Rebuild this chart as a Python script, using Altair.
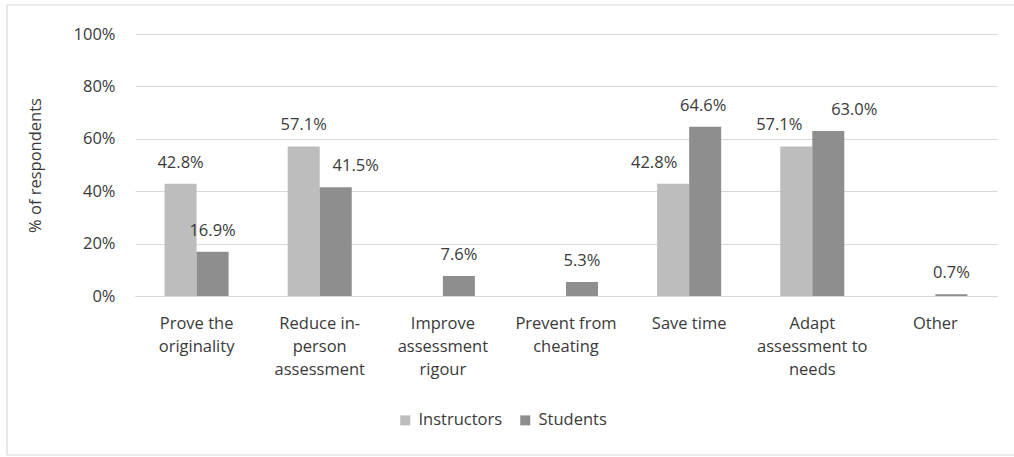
import altair as alt
import pandas as pd

# Survey results: share of respondents selecting each reason
categories = [
    "Prove the\noriginality",
    "Reduce in-\nperson\nassessment",
    "Improve\nassessment\nrigour",
    "Prevent from\ncheating",
    "Save time",
    "Adapt\nassessment to\nneeds",
    "Other",
]
instructors = [42.8, 57.1, None, None, 42.8, 57.1, None]
students = [16.9, 41.5, 7.6, 5.3, 64.6, 63.0, 0.7]
groups = ["Instructors", "Students"]

# Horizontal nudges for value labels that sit off-centre (pixels)
label_dx_instructors = [0, 0, 0, 0, -19, -17, 0]
label_dx_students = [0, 20, 0, 0, -2, 26, 0]

rows = []
for i, cat in enumerate(categories):
    for grp, vals, dxs in ((groups[0], instructors, label_dx_instructors),
                           (groups[1], students, label_dx_students)):
        v = vals[i]
        if v is None:
            continue
        rows.append({"reason": cat, "group": grp, "value": v / 100.0,
                     "label": f"{v:.1f}%", "dx": dxs[i]})
df = pd.DataFrame(rows)

FONT = "Open Sans"
FS = 16.5
TEXT = "#3a3a3a"
GRID = "#d9d9d9"
colors = ["#bdbdbd", "#8e8e8e"]

W, H = 862, 262

x_enc = alt.X("reason:N", sort=categories,
              scale=alt.Scale(paddingInner=0.48, paddingOuter=0.24),
              axis=alt.Axis(title=None, labelAngle=0, ticks=False,
                            domain=True, domainColor=GRID, domainWidth=1,
                            labelExpr="split(datum.label, '\\n')",
                            labelFont=FONT, labelFontSize=FS, labelColor=TEXT,
                            labelLineHeight=23, labelPadding=19,
                            labelBaseline="top"))
xoff = alt.XOffset("group:N", sort=groups,
                   scale=alt.Scale(paddingInner=0, paddingOuter=0))
y_enc = alt.Y("value:Q",
              scale=alt.Scale(domain=[0, 1], nice=False),
              axis=alt.Axis(title="% of respondents", format=".0%",
                            values=[0, 0.2, 0.4, 0.6, 0.8, 1.0],
                            ticks=False, domain=False,
                            grid=True, gridColor=GRID, gridWidth=1,
                            labelFont=FONT, labelFontSize=FS, labelColor=TEXT,
                            labelPadding=20,
                            titleFont=FONT, titleFontSize=FS, titleColor=TEXT,
                            titleFontWeight="normal",
                            titleX=-100, titleY=H / 2, titleAngle=270,
                            titleAlign="center", titleBaseline="middle"))

bars = alt.Chart(df).mark_bar().encode(
    x=x_enc,
    xOffset=xoff,
    y=y_enc,
    color=alt.Color("group:N", sort=groups,
                    scale=alt.Scale(domain=groups, range=colors),
                    legend=alt.Legend(title=None, orient="none",
                                      direction="horizontal",
                                      legendX=262, legendY=378,
                                      symbolType="square", symbolSize=100,
                                      symbolStrokeWidth=0,
                                      labelFont=FONT, labelFontSize=FS,
                                      labelColor=TEXT, labelOffset=5,
                                      columnPadding=14)),
)

# Value labels, one layer per horizontal nudge
label_layers = []
for d in sorted(df["dx"].unique()):
    label_layers.append(
        alt.Chart(df).transform_filter(alt.datum.dx == int(d)).mark_text(
            font=FONT, fontSize=FS, color=TEXT, baseline="middle",
            align="center", dy=-21, dx=int(d)
        ).encode(
            x=alt.X("reason:N", sort=categories),
            xOffset=alt.XOffset("group:N", sort=groups),
            y=alt.Y("value:Q"),
            text="label:N",
        )
    )

# Light outer frame around the figure: top, left and bottom edges
one = pd.DataFrame({"k": [0]})
edge = dict(color=GRID, strokeWidth=1.2)
frame_top = alt.Chart(one).mark_rule(**edge).encode(
    x=alt.value(-128), x2=alt.value(W + 20), y=alt.value(-29))
frame_bottom = alt.Chart(one).mark_rule(**edge).encode(
    x=alt.value(-128), x2=alt.value(W + 20), y=alt.value(421))
frame_left = alt.Chart(one).mark_rule(**edge).encode(
    x=alt.value(-128), y=alt.value(-29), y2=alt.value(421))

chart = alt.layer(frame_top, frame_bottom, frame_left, bars, *label_layers).properties(
    width=W, height=H,
    background="white",
    autosize=alt.AutoSizeParams(type="none"),
    padding={"left": 135, "top": 34, "right": 17, "bottom": 161},
).configure_view(stroke=None)

chart.save("out.html", embed_options={"renderer": "svg", "actions": False})
